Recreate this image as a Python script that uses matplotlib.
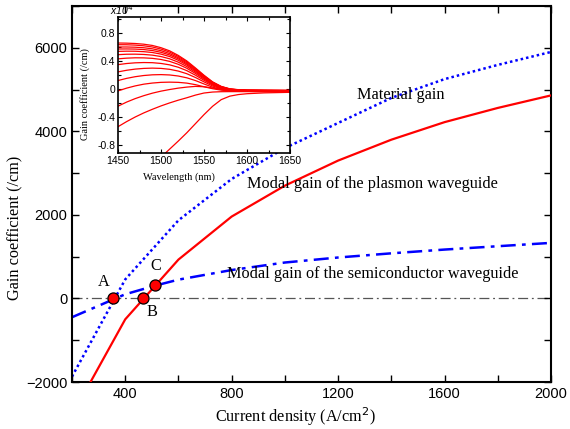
import matplotlib
matplotlib.use("Agg")
import matplotlib.pyplot as plt
from matplotlib.ticker import MultipleLocator

# ---------------- main-axis data ----------------
current = [200, 400, 600, 800, 1000, 1200, 1400, 1600, 1800, 2000]
material_gain = [-1870, 455, 1870, 2860, 3600, 4200, 4800, 5250, 5590, 5900]
plasmon_gain = [-2800, -500, 930, 1960, 2700, 3300, 3800, 4220, 4560, 4860]
semi_current = [200, 400, 515, 600, 800, 1000, 1200, 1400, 1600, 1800, 2000]
semi_gain = [-450, 100, 311, 450, 680, 860, 980, 1080, 1170, 1250, 1330]

point_labels = ["A", "B", "C"]
point_x = [355, 465, 512]
point_y = [0, 0, 310]

# ---------------- inset data (x1e4 /cm) ----------------
wavelength = [1450, 1460, 1470, 1480, 1490, 1500, 1510, 1520, 1530, 1540,
              1550, 1560, 1570, 1580, 1590, 1600, 1620, 1650]
spectra = [
    [0.657, 0.655, 0.650, 0.640, 0.622, 0.590, 0.545, 0.480, 0.400, 0.300, 0.195, 0.100, 0.035, 0.000, -0.012, -0.018, -0.020, -0.022],
    [0.633, 0.632, 0.627, 0.617, 0.600, 0.570, 0.527, 0.465, 0.388, 0.290, 0.188, 0.095, 0.032, -0.002, -0.014, -0.019, -0.021, -0.023],
    [0.600, 0.600, 0.597, 0.589, 0.574, 0.547, 0.506, 0.447, 0.373, 0.279, 0.180, 0.090, 0.029, -0.004, -0.015, -0.020, -0.022, -0.024],
    [0.571, 0.572, 0.570, 0.563, 0.549, 0.524, 0.486, 0.430, 0.358, 0.268, 0.172, 0.085, 0.026, -0.006, -0.016, -0.021, -0.023, -0.025],
    [0.537, 0.540, 0.539, 0.533, 0.521, 0.498, 0.463, 0.410, 0.342, 0.256, 0.164, 0.080, 0.023, -0.008, -0.018, -0.022, -0.024, -0.026],
    [0.490, 0.496, 0.497, 0.493, 0.483, 0.463, 0.431, 0.383, 0.320, 0.240, 0.153, 0.073, 0.019, -0.010, -0.019, -0.023, -0.025, -0.027],
    [0.430, 0.440, 0.445, 0.444, 0.437, 0.421, 0.394, 0.352, 0.295, 0.221, 0.140, 0.065, 0.014, -0.012, -0.021, -0.024, -0.026, -0.028],
    [0.347, 0.363, 0.373, 0.377, 0.375, 0.364, 0.344, 0.310, 0.261, 0.196, 0.123, 0.055, 0.008, -0.015, -0.023, -0.026, -0.028, -0.030],
    [0.243, 0.266, 0.283, 0.293, 0.297, 0.293, 0.280, 0.255, 0.217, 0.163, 0.100, 0.041, 0.000, -0.019, -0.026, -0.028, -0.030, -0.032],
    [0.119, 0.150, 0.174, 0.191, 0.201, 0.204, 0.199, 0.184, 0.158, 0.119, 0.070, 0.024, -0.009, -0.024, -0.029, -0.031, -0.033, -0.035],
    [-0.030, 0.010, 0.042, 0.067, 0.083, 0.093, 0.096, 0.093, 0.082, 0.060, 0.030, 0.002, -0.019, -0.029, -0.033, -0.034, -0.036, -0.038],
    [-0.249, -0.190, -0.140, -0.098, -0.062, -0.033, -0.010, 0.010, 0.025, 0.035, 0.030, 0.012, -0.008, -0.022, -0.031, -0.036, -0.040, -0.042],
    [-0.543, -0.470, -0.404, -0.345, -0.293, -0.245, -0.202, -0.163, -0.128, -0.090, -0.060, -0.046, -0.041, -0.040, -0.040, -0.040, -0.041, -0.043],
    [-1.600, -1.470, -1.345, -1.220, -1.100, -0.980, -0.865, -0.750, -0.630, -0.500, -0.370, -0.250, -0.155, -0.105, -0.082, -0.070, -0.058, -0.050],
]

serif = ["Liberation Serif", "DejaVu Serif"]
sans = ["Liberation Sans", "DejaVu Sans"]
W, H = 570, 429

fig = plt.figure(figsize=(5.7, 4.29), dpi=100)
ax = fig.add_axes([72 / W, 1 - 382 / H, (551 - 72) / W, (382 - 6) / H])

ax.axhline(0, color="#555555", lw=0.9, ls=(0, (8, 3, 1.5, 3)), zorder=1)
ax.plot(current, material_gain, color="#0000ff", lw=1.8, ls=(0, (1, 1.2)), zorder=2)
ax.plot(current, plasmon_gain, color="#ff0000", lw=1.6, zorder=3)
ax.plot(semi_current, semi_gain, color="#0000ff", lw=1.8, ls=(0, (6, 2.5, 1.5, 2.5)), zorder=2)
ax.plot(point_x, point_y, ls="none", marker="o", ms=8, mfc="#ff0000", mec="black", mew=0.9, zorder=5)

label_pos = [(318, 383), (500, -335), (515, 766)]
for lab, (lx, ly) in zip(point_labels, label_pos):
    ax.text(lx, ly, lab, family=serif, fontsize=11.7, ha="center", va="center")

ax.text(1270, 4860, "Material gain", family=serif, fontsize=11.7, ha="left", va="center")
ax.text(857, 2730, "Modal gain of the plasmon waveguide", family=serif, fontsize=11.7, ha="left", va="center")
ax.text(782, 575, "Modal gain of the semiconductor waveguide", family=serif, fontsize=11.7, ha="left", va="center")

ax.set_xlim(200, 2000)
ax.set_ylim(-2000, 7000)
ax.xaxis.set_major_locator(MultipleLocator(400))
ax.xaxis.set_minor_locator(MultipleLocator(200))
ax.yaxis.set_major_locator(MultipleLocator(2000))
ax.yaxis.set_minor_locator(MultipleLocator(1000))
ax.set_xticks([400, 800, 1200, 1600, 2000])
ax.tick_params(which="both", direction="in", top=True, right=True, length=5, width=1)
ax.tick_params(labelsize=10.5)
for t in ax.get_xticklabels() + ax.get_yticklabels():
    t.set_family(sans)
for s in ax.spines.values():
    s.set_linewidth(1.5)
ax.set_xlabel("Current density (A/cm$^2$)", family=serif, fontsize=11.7)
ax.set_ylabel("Gain coefficient (/cm)", family=serif, fontsize=11.7)
ax.xaxis.set_label_coords((295 - 72) / (551 - 72), -(417 - 382) / (382 - 6))
ax.yaxis.set_label_coords(-(72 - 15.5) / (551 - 72), (382 - 228) / (382 - 6))
ax.xaxis.label.set_va("center")
ax.yaxis.label.set_va("center")

# ---------------- inset ----------------
ins = fig.add_axes([118 / W, 1 - 153 / H, (290 - 118) / W, (153 - 17) / H])
for sp in spectra:
    ins.plot(wavelength, sp, color="#ff0000", lw=0.9)
ins.set_xlim(1450, 1650)
ins.set_ylim(-0.92, 1.03)
ins.set_xticks([1450, 1500, 1550, 1600, 1650])
ins.set_yticks([-0.8, -0.4, 0, 0.4, 0.8])
ins.set_yticklabels(["-0.8", "-0.4", "0", "0.4", "0.8"])
ins.yaxis.set_minor_locator(MultipleLocator(0.2))
ins.xaxis.set_minor_locator(MultipleLocator(25))
ins.tick_params(which="both", direction="in", top=True, right=True, length=3, width=0.8, labelsize=7.5, pad=2)
ins.tick_params(which="minor", length=2)
for t in ins.get_xticklabels() + ins.get_yticklabels():
    t.set_family(sans)
for s in ins.spines.values():
    s.set_linewidth(1.2)
ins.set_xlabel("Wavelength (nm)", family=serif, fontsize=7.5)
ins.set_ylabel("Gain coefficient (/cm)", family=serif, fontsize=7.5)
ins.xaxis.set_label_coords((179 - 118) / (290 - 118), -(177 - 153) / (153 - 17))
ins.yaxis.set_label_coords(-(118 - 85) / (290 - 118), (153 - 94) / (153 - 17))
ins.xaxis.label.set_va("center")
ins.yaxis.label.set_va("center")
ins.text((110 - 118) / (290 - 118), 1.0, "x10$^4$", transform=ins.transAxes, family=sans,
         fontsize=7.5, style="italic", ha="left", va="bottom")

fig.savefig("out.png", dpi=100)
